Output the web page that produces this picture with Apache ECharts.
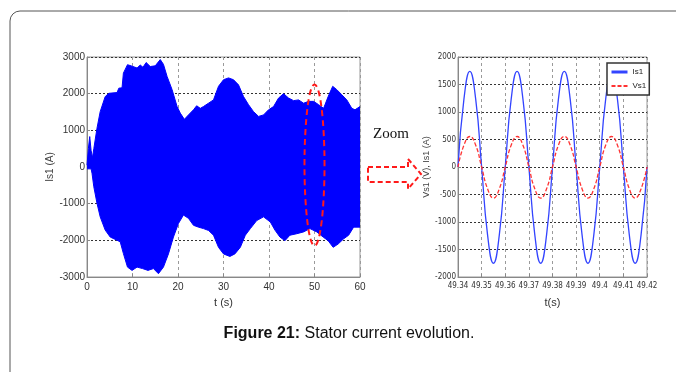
<!DOCTYPE html>
<html>
<head>
<meta charset="utf-8">
<script src="https://cdn.jsdelivr.net/npm/echarts@6/dist/echarts.min.js"></script>
<style>
html,body{margin:0;padding:0;background:#fff;}
#c{width:676px;height:372px;}
</style>
</head>
<body>
<div id="c"></div>
<script>
// ---- Left plot: envelope of Is1 (A) over t (s) ----
const upT = [0,0.3,0.6,0.9,1.2,1.5,2.2,2.9,4.0,4.8,6.6,7.0,7.7,8.0,8.9,9.9,11.0,11.7,12.3,13.0,13.9,15.0,16.1,16.8,17.6,18.7,19.8,20.5,21.4,22.3,23.4,24.1,24.9,25.6,26.7,27.8,28.9,30.0,31.1,32.2,33.3,34.4,35.5,36.6,37.7,38.8,39.9,41.0,42.1,43.2,44.3,45.4,46.5,47.6,48.7,49.8,50.9,52.0,53.0,54.0,54.9,56.0,57.1,58.2,58.9,60];
const upV = [50,500,830,450,250,500,1060,1510,1920,2010,2030,2150,2160,2560,2790,2750,2700,2780,2720,2850,2740,2760,2930,2800,2470,2110,1650,1470,1300,1420,1560,1670,1600,1650,1740,1830,2200,2380,2430,2380,2240,1920,1700,1510,1380,1420,1560,1650,1880,2000,1880,1810,1830,1740,1790,1790,1700,1600,1920,2200,2110,1970,1830,1600,1560,1650];
const loT = [0,0.9,1.1,1.5,2.2,2.9,4.0,5.1,7.3,8.0,8.9,9.9,11.0,12.2,13.4,14.6,15.7,16.8,17.9,19.0,20.1,21.2,22.3,23.4,24.5,25.6,26.7,27.8,28.9,30.0,31.4,32.5,33.7,34.8,35.9,37.3,38.8,40.3,41.3,42.4,43.5,44.6,46.1,47.6,49.0,50.5,51.9,53.0,54.1,55.2,56.4,57.5,58.6,60];
const loV = [-50,-50,-170,-540,-990,-1360,-1720,-1910,-2040,-2360,-2730,-2820,-2730,-2770,-2820,-2770,-2910,-2730,-2370,-1910,-1540,-1310,-1400,-1590,-1640,-1680,-1730,-1860,-2190,-2370,-2440,-2370,-2190,-1860,-1680,-1460,-1360,-1500,-1720,-1910,-2010,-1860,-1820,-1770,-1680,-1770,-1910,-2010,-2190,-2100,-1960,-1860,-1640,-1640];

// ---- Right plot: zoomed waveforms ----
const zT = [49.34,49.3425,49.345,49.3475,49.35,49.3525,49.355,49.3575,49.36,49.3625,49.365,49.3675,49.37,49.3725,49.375,49.3775,49.38,49.3825,49.385,49.3875,49.39,49.3925,49.395,49.3975,49.40,49.4025,49.405,49.4075,49.41,49.4125,49.415,49.4175,49.42];
const is1 = [0,1230,1740,1230,0,-1230,-1750,-1230,0,1230,1740,1230,0,-1230,-1750,-1230,0,1230,1740,1230,0,-1230,-1750,-1230,0,1230,1740,1230,0,-1230,-1750,-1230,0];
const vs1 = [0,395,555,395,0,-395,-565,-395,0,395,555,395,0,-395,-565,-395,0,395,555,395,0,-395,-565,-395,0,395,555,395,0,-395,-565,-395,0];

const leftTicks = {min:-3000, max:3000, interval:1000};
const rightTicks = {min:-2000, max:2000, interval:500};

const pairs = (a,b) => a.map((x,i)=>[x,b[i]]);
const BLUE = '#0000ff';
const font = 'Liberation Sans, Arial, sans-serif';
const narrow = '"Liberation Sans Narrow", "Arial Narrow", "DejaVu Sans Condensed", sans-serif';

const chart = echarts.init(document.getElementById('c'), null, {renderer:'canvas'});

function xAx(gi, min, max, interval, name, fs, ff) {
  return {
    type:'value', gridIndex:gi, min:min, max:max, interval:interval,
    name:name, nameLocation:'middle', nameGap:20,
    nameTextStyle:{fontSize:11, color:'#333', fontFamily:font},
    axisLine:{show:true, onZero:false, lineStyle:{color:'#888', width:1}},
    axisTick:{show:true, inside:true, length:3, lineStyle:{color:'#888'}},
    axisLabel:{fontSize:fs, color:'#333', margin:5, fontFamily:ff},
    splitLine:{show:true, lineStyle:{color:'#9a9a9a', type:[3,3], width:1}}
  };
}
function yAx(gi, t, name, gap, fs, ff, nfs) {
  return {
    type:'value', gridIndex:gi, min:t.min, max:t.max, interval:t.interval,
    name:name, nameLocation:'middle', nameGap:gap, nameRotate:90,
    nameTextStyle:{fontSize:nfs, color:'#444', fontFamily:font},
    axisLine:{show:true, onZero:false, lineStyle:{color:'#888', width:1}},
    axisTick:{show:true, inside:true, length:3, lineStyle:{color:'#888'}},
    axisLabel:{fontSize:fs, color:'#333', margin:2, fontFamily:ff, formatter:(v)=>String(v)},
    splitLine:{show:true, lineStyle:{color:'#333', type:[2,2], width:1}}
  };
}

chart.setOption({
  animation:false,
  backgroundColor:'#fff',
  grid:[
    {left:87, top:57, width:273, height:220, show:true, borderColor:'#999', borderWidth:1, backgroundColor:'transparent'},
    {left:458, top:57, width:189, height:220, show:true, borderColor:'#999', borderWidth:1, backgroundColor:'transparent'}
  ],
  xAxis:[ xAx(0,0,60,10,'t (s)',10,font), xAx(1,49.34,49.42,0.01,'t(s)',8,narrow) ],
  yAxis:[ yAx(0,leftTicks,'Is1 (A)',22,10,font,10), yAx(1,rightTicks,'Vs1 (V), Is1 (A)',7,8,narrow,9) ],
  legend:{
    data:[
      {name:'Is1', itemStyle:{opacity:0}, lineStyle:{width:3}},
      {name:'Vs1', itemStyle:{opacity:0}, lineStyle:{width:2}}
    ],
    orient:'vertical', left:607, top:63,
    itemWidth:16, itemHeight:8, itemGap:6, padding:[5,3,5,3],
    borderColor:'#333', borderWidth:1.5, backgroundColor:'#fff',
    textStyle:{fontSize:8, color:'#222', fontFamily:font}
  },
  series:[
    {name:'env_up', type:'line', xAxisIndex:0, yAxisIndex:0, data:pairs(upT,upV), symbol:'none',
     lineStyle:{color:BLUE, width:1}, areaStyle:{color:BLUE, opacity:1}, z:2},
    {name:'env_lo', type:'line', xAxisIndex:0, yAxisIndex:0, data:pairs(loT,loV), symbol:'none',
     lineStyle:{color:BLUE, width:1}, areaStyle:{color:BLUE, opacity:1}, z:2},
    {name:'Is1', type:'line', xAxisIndex:1, yAxisIndex:1, data:pairs(zT,is1), symbol:'none', smooth:true,
     itemStyle:{color:'#3344ff'}, lineStyle:{color:'#3344ff', width:1.3}, z:3},
    {name:'Vs1', type:'line', xAxisIndex:1, yAxisIndex:1, data:pairs(zT,vs1), symbol:'none', smooth:true,
     itemStyle:{color:'#ff3333'}, lineStyle:{color:'#ff3333', width:1.3, type:[4,2]}, z:3}
  ]
});

// decorations
const pTop = chart.convertToPixel({gridIndex:0}, [50, 2250]);
const pBot = chart.convertToPixel({gridIndex:0}, [50, -2150]);
const pSide = chart.convertToPixel({gridIndex:0}, [47.8, 0]);
const ecx = pTop[0], ecy = (pTop[1]+pBot[1])/2, ery = (pBot[1]-pTop[1])/2, erx = ecx - pSide[0];

chart.setOption({
  graphic:[
    {type:'rect', shape:{x:10, y:11, width:800, height:500, r:10}, style:{fill:null, stroke:'#555', lineWidth:1}, z:0, silent:true},
    {type:'ellipse', shape:{cx:ecx, cy:ecy, rx:erx, ry:ery}, style:{fill:null, stroke:'#ff1a1a', lineWidth:2, lineDash:[6,4]}, z:100},
    {type:'text', x:373, y:127, style:{text:'Zoom', font:'15px "Liberation Serif", "Times New Roman", serif', fill:'#111'}, z:100},
    {type:'polygon', shape:{points:[[368,167],[408,167],[408,159],[421,174],[408,189],[408,182],[368,182]]},
     style:{fill:null, stroke:'#ff1a1a', lineWidth:2, lineDash:[5,3]}, z:100},
    {type:'text', x:349, y:334, style:{
      text:'{b|Figure 21:} Stator current evolution.',
      rich:{b:{fontWeight:'bold', fontSize:16, fontFamily:font, fill:'#111'}},
      fontSize:16, fontFamily:font, fill:'#111', align:'center', verticalAlign:'middle'}, z:100}
  ]
});
</script>
</body>
</html>
